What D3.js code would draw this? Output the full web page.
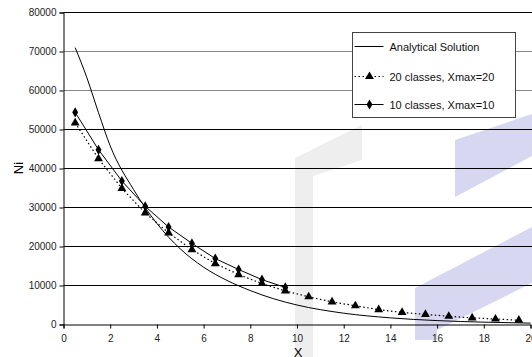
<!DOCTYPE html>
<html>
<head>
<meta charset="utf-8">
<script src="https://cdn.jsdelivr.net/npm/d3@7"></script>
<style>
  body { margin: 0; background: #fff; }
  svg { display: block; font-family: "Liberation Sans", Arial, sans-serif; }
</style>
</head>
<body>
<figure id="chart" style="margin:0"></figure>
<script>
// values
const xTicks = [0, 2, 4, 6, 8, 10, 12, 14, 16, 18, 20];
const yTicks = [0, 10000, 20000, 30000, 40000, 50000, 60000, 70000, 80000];

const analyticX = [0.5, 1, 1.5, 2, 3, 4, 5, 6, 7, 8, 9, 10, 12, 14, 16, 18, 20];
const analyticN = [71000, 63300, 54300, 45800, 34600, 25900, 19400, 14700, 11300, 8700, 6600, 5000, 2900, 1700, 1000, 600, 350];

const classes20X = [0.5, 1.5, 2.5, 3.5, 4.5, 5.5, 6.5, 7.5, 8.5, 9.5, 10.5, 11.5, 12.5, 13.5, 14.5, 15.5, 16.5, 17.5, 18.5, 19.5];
const classes20N = [51700, 42500, 34900, 28600, 23500, 19200, 15600, 12800, 10500, 8600, 7100, 5800, 4800, 3800, 3100, 2600, 2100, 1700, 1400, 1100];

const classes10X = [0.5, 1.5, 2.5, 3.5, 4.5, 5.5, 6.5, 7.5, 8.5, 9.5];
const classes10N = [54400, 44800, 36800, 30300, 25000, 20800, 16900, 14100, 11500, 9500];

const legendLabels = ["Analytical Solution", "20 classes, Xmax=20", "10 classes, Xmax=10"];

const width = 532, height = 357;
const plot = { left: 63.5, right: 530.5, top: 12.5, bottom: 324.5 };

const svg = d3.select("figure#chart")
  .append("svg")
  .attr("width", width)
  .attr("height", height);

const x = d3.scaleLinear().domain([0, 20]).range([plot.left, plot.right]);
const y = d3.scaleLinear().domain([0, 80000]).range([plot.bottom, plot.top]);

// faint watermark shapes in the background
const marks = svg.append("g");
marks.append("path")
  .attr("d", "M295,357 L295,158 L362,125 L362,160 L313,176 L313,357 Z")
  .attr("fill", "#eeeeee");
marks.append("path")
  .attr("d", "M455,140 L532,114 L532,156 L455,197 Z")
  .attr("fill", "#d7d7f1");
marks.append("path")
  .attr("d", "M415,340 L415,288 L532,227 L532,283 L437,330 L437,340 Z")
  .attr("fill", "#d7d7f1");

// horizontal grid lines
svg.append("g")
  .selectAll("line")
  .data(yTicks.filter(d => d > 0))
  .enter()
  .append("line")
  .attr("x1", plot.left)
  .attr("x2", plot.right + 2)
  .attr("y1", d => y(d))
  .attr("y2", d => y(d))
  .attr("stroke", d => (d == 60000 || d == 70000) ? "#888" : "#000")
  .attr("stroke-width", 1);

// Y axis
const yAxis = svg.append("g")
  .attr("transform", "translate(" + plot.left + ",0)")
  .call(d3.axisLeft(y).tickValues(yTicks).tickSize(4).tickPadding(3).tickFormat(d3.format("d")));
yAxis.select(".domain").attr("stroke", "#000");
yAxis.selectAll("text").attr("font-size", 10).attr("fill", "#222").attr("font-family", "Liberation Sans, Arial");

// X axis
const xAxis = svg.append("g")
  .attr("transform", "translate(0," + plot.bottom + ")")
  .call(d3.axisBottom(x).tickValues(xTicks).tickSize(4).tickPadding(6));
xAxis.select(".domain").attr("stroke", "#000");
xAxis.selectAll("text").attr("font-size", 10).attr("fill", "#222").attr("font-family", "Liberation Sans, Arial");

// axis titles
svg.append("text")
  .attr("transform", "translate(23,168) rotate(-90)")
  .attr("text-anchor", "middle")
  .attr("font-size", 13)
  .text("Ni");
svg.append("text")
  .attr("x", 298)
  .attr("y", 357)
  .attr("text-anchor", "middle")
  .attr("font-size", 13)
  .text("X");

const line = d3.line().x(d => x(d[0])).y(d => y(d[1]));

// analytical solution
svg.append("path")
  .datum(d3.zip(analyticX, analyticN))
  .attr("d", line.curve(d3.curveMonotoneX))
  .attr("fill", "none")
  .attr("stroke", "#000")
  .attr("stroke-width", 1);

const data20 = d3.zip(classes20X, classes20N);
const data10 = d3.zip(classes10X, classes10N);
const straight = d3.line().x(d => x(d[0])).y(d => y(d[1]));

svg.append("path")
  .datum(data20)
  .attr("d", straight)
  .attr("fill", "none")
  .attr("stroke", "#000")
  .attr("stroke-width", 1.2)
  .attr("stroke-dasharray", "1.5,2.5");

svg.append("path")
  .datum(data10)
  .attr("d", straight)
  .attr("fill", "none")
  .attr("stroke", "#000")
  .attr("stroke-width", 1);

const tri = d3.symbol().type(d3.symbolTriangle).size(34);
const dia = d3.symbol().type(d3.symbolDiamond).size(30);

svg.append("g")
  .selectAll("path")
  .data(data20)
  .enter()
  .append("path")
  .attr("d", tri)
  .attr("transform", d => "translate(" + x(d[0]) + "," + y(d[1]) + ")")
  .attr("fill", "#000");

svg.append("g")
  .selectAll("path")
  .data(data10)
  .enter()
  .append("path")
  .attr("d", dia)
  .attr("transform", d => "translate(" + x(d[0]) + "," + y(d[1]) + ")")
  .attr("fill", "#000");

// plot frame top
svg.append("line")
  .attr("x1", plot.left).attr("x2", plot.right + 2)
  .attr("y1", plot.top).attr("y2", plot.top)
  .attr("stroke", "#000");

// legend
const legend = svg.append("g").attr("transform", "translate(352.5,32.5)");
legend.append("rect")
  .attr("width", 163)
  .attr("height", 85)
  .attr("fill", "#fff")
  .attr("stroke", "#444");

const rows = [14, 44, 72];
legendLabels.forEach((label, i) => {
  const g = legend.append("g").attr("transform", "translate(0," + rows[i] + ")");
  g.append("line")
    .attr("x1", 2).attr("x2", 31)
    .attr("stroke", "#000")
    .attr("stroke-width", i == 1 ? 1.2 : 1)
    .attr("stroke-dasharray", i == 1 ? "1.5,2.5" : null);
  if (i == 1) g.append("path").attr("d", tri).attr("transform", "translate(17,0)");
  if (i == 2) g.append("path").attr("d", dia).attr("transform", "translate(17,0)");
  g.append("text")
    .attr("x", 37)
    .attr("y", 4)
    .attr("font-size", 11)
    .attr("fill", "#111")
    .text(label);
});
</script>
</body>
</html>
